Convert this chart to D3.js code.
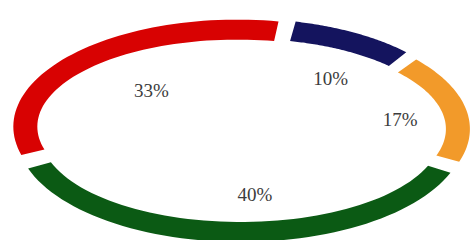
<!DOCTYPE html>
<html>
<head>
<meta charset="utf-8">
<script src="https://cdn.jsdelivr.net/npm/d3@7"></script>
<style>
  body { margin: 0; background: #fff; }
  svg { display: block; }
</style>
</head>
<body>
<div id="chart-area"></div>
<script>
// slice data, clockwise from the top
var labels = ["10%", "17%", "40%", "33%"];
var values = [10, 17, 40, 33];
var colors = ["#14145e", "#f29a2a", "#0b5a14", "#d80202"];

var width = 470,
    height = 240;

var svg = d3.select("#chart-area")
    .append("svg")
    .attr("width", width)
    .attr("height", height);

// flat ellipse ring (tilted pie look)
var cx = 241, cy = 130,
    rxOut = 224, ryOut = 107,
    rxIn = 200, ryIn = 87,
    explode = 5,
    pad = 0.05;

var pie = d3.pie()
    .sort(null)
    .value(function(d) { return d; })
    .startAngle(0.21)
    .endAngle(0.21 + 2 * Math.PI);

var arcs = pie(values);

function pt(t, rx, ry) {
    return [rx * Math.sin(t), -ry * Math.cos(t)];
}

var line = d3.line().curve(d3.curveLinearClosed);

function ringPath(d) {
    var a0 = d.startAngle + pad / 2,
        a1 = d.endAngle - pad / 2,
        n = 60, pts = [], i, t;
    for (i = 0; i <= n; i++) {
        t = a0 + (a1 - a0) * i / n;
        pts.push(pt(t, rxOut, ryOut));
    }
    for (i = n; i >= 0; i--) {
        t = a0 + (a1 - a0) * i / n;
        pts.push(pt(t, rxIn, ryIn));
    }
    return line(pts);
}

var g = svg.append("g")
    .attr("transform", "translate(" + cx + "," + cy + ")");

g.selectAll(".slice")
    .data(arcs)
    .enter().append("path")
    .attr("class", "slice")
    .attr("d", ringPath)
    .attr("transform", function(d) {
        var m = (d.startAngle + d.endAngle) / 2;
        return "translate(" + (explode * Math.sin(m)) + "," + (-explode * Math.cos(m)) + ")";
    })
    .style("fill", function(d, i) { return colors[i]; });

// labels on a smaller ellipse
var lx = 258, ly = 132, lrx = 145, lry = 62;

svg.selectAll(".lbl")
    .data(arcs)
    .enter().append("text")
    .attr("class", "lbl")
    .attr("x", function(d) { var m = (d.startAngle + d.endAngle) / 2; return lx + lrx * Math.sin(m); })
    .attr("y", function(d) { var m = (d.startAngle + d.endAngle) / 2; return ly - lry * Math.cos(m); })
    .attr("dy", "0.35em")
    .attr("text-anchor", "middle")
    .style("font-family", "'Liberation Serif', 'DejaVu Serif', serif")
    .style("font-size", "19px")
    .style("fill", "#3c3c3c")
    .text(function(d, i) { return labels[i]; });
</script>
</body>
</html>
